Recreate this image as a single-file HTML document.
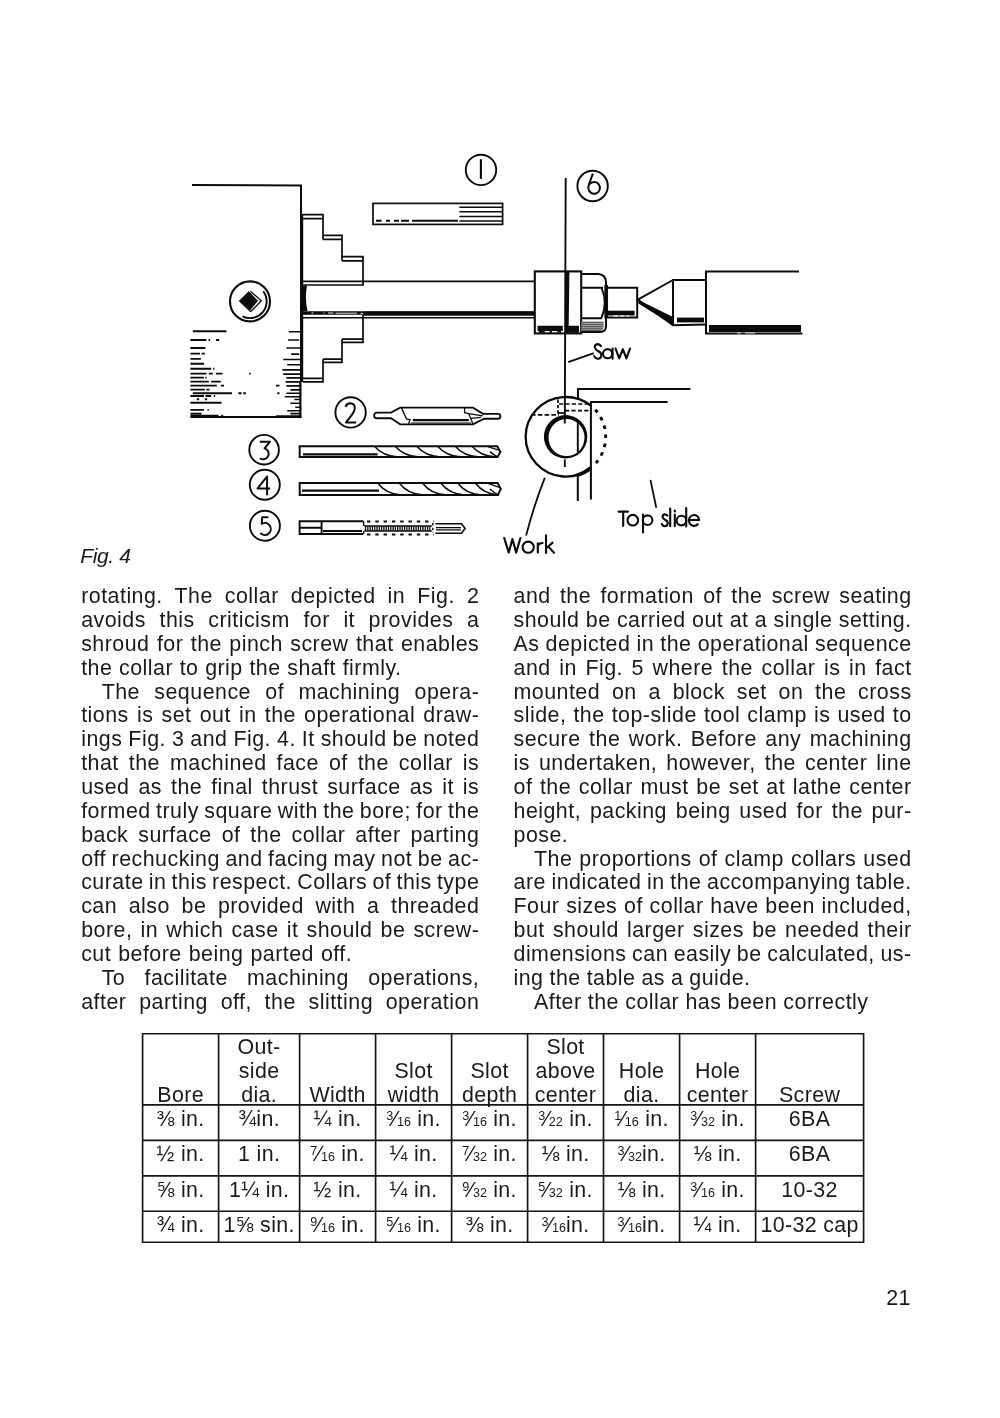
<!DOCTYPE html>
<html><head><meta charset="utf-8"><title>p21</title>
<style>
html,body{margin:0;padding:0;background:#fff}
body{will-change:transform;width:1000px;height:1418px;position:relative;overflow:hidden;font-family:"Liberation Sans",sans-serif;color:#1a1a1a}
.l{position:absolute;white-space:nowrap;font-size:21.4px;letter-spacing:0.48px;line-height:23.85px;height:23.85px}
.t{position:absolute;width:120px;text-align:center;white-space:nowrap;font-size:21.4px;letter-spacing:0.35px;line-height:24px}
.fn{font-size:12.6px;position:relative;top:-6.4px;letter-spacing:0}.fd{font-size:12.6px;letter-spacing:0}.fs{letter-spacing:0}
.vl{position:absolute;width:1.5px;background:#222}
.hl{position:absolute;height:1.5px;background:#222}
#fig{position:absolute;left:80.3px;top:546px;font-style:italic;font-size:21px;letter-spacing:-0.4px;line-height:20px}
#pn{position:absolute;left:860px;width:51px;text-align:right;top:1285.7px;font-size:21.4px;letter-spacing:0.5px;line-height:24px}
svg{position:absolute;left:0;top:0}
</style></head><body>
<svg width="1000" height="600" viewBox="0 0 1000 600" fill="none" stroke="#0b0b0b" stroke-width="2" stroke-linecap="butt" stroke-linejoin="miter">
<!-- headstock outline -->
<g id="headstock">
<path d="M192,185 L301,185.5 L301,214"/>
<path d="M301.6,214 V382" stroke-width="3.2"/>
<path d="M300.4,382 V418" stroke-width="2.2"/>
<path d="M190.5,417 H301.4" stroke-width="2.2"/>
</g>
<!-- chuck jaws -->
<g id="jaws" stroke-width="1.7">
<path d="M303,214.6 H323 V239.4 M303,218.6 H323"/>
<path d="M323,235.4 H342 V260.8 M323,239.4 H342"/>
<path d="M342,256.6 H363 V285.4 M342,260.8 H363"/>
<path d="M303,285 H363.6"/>
<path d="M363,315 V342.6 M342,339.2 H363 M342,342.4 H363.8"/>
<path d="M342,339.2 V362.6 M323,359.2 H342 M323,362.4 H342.8"/>
<path d="M323,359.2 V382 M303,378.4 H323 M303,381.8 H323.8"/>
</g>
<!-- shaft -->
<g id="shaft">
<path d="M303,281.4 H534.4" stroke-width="1.7"/>
<path d="M303,313 H534.4" stroke-width="3.6"/>
<path d="M364,313.6 H534.4" stroke-width="4.2"/>
<path d="M303,317.8 H534.4" stroke-width="1.6"/>
<path d="M303,285.5 H307 Q304.6,298 307.5,311 H303 Z" fill="#0b0b0b" stroke="none"/>
<path d="M311.5,313 h2 M323.5,313 h1 M328,313 h5.5 M335.5,313.2 h21.5 M360.5,313.4 h2.5" stroke="#fff" stroke-width="0.9"/>
</g>
<g id="texture">
<path d="M192.8,331.2H226.4M190.4,340.0H206.4M208.5,340.0H210.1M216.0,340.0H219.2M190.4,348.0H204.0M204.0,348.0H205.3M190.4,353.6H200.0M201.6,353.6H204.8M190.4,358.9H200.8M190.4,363.7H204.0M190.4,368.8H211.2M213.1,368.8H214.4M190.4,373.6H206.4M208.8,373.6H212.8M216.0,373.6H222.4M249.1,373.6H250.7M190.4,377.6H204.0M205.3,377.6H206.6M190.4,381.6H208.8M211.2,381.6H220.8M190.4,385.6H216.8M220.8,385.6H224.0M276.0,385.6H279.5M190.4,389.6H204.8M206.4,389.6H209.6M192.8,393.3H232.0M238.4,393.3H241.6M243.2,393.3H245.9M277.3,393.3H279.5M190.4,396.0H204.0M205.6,396.0H211.2M213.9,396.0H215.2M196.8,399.2H199.2M204.8,399.2H207.2M190.4,402.7H221.6M190.4,409.9H204.0M207.5,409.9H208.8M190.4,413.6H201.6M190.4,415.7H218.4M221.3,415.7H223.2" stroke-width="1.9"/>
<path d="M288.8,331.7H300.0M288.0,340.0H299.2M286.4,348.0H300.0M291.2,354.1H299.2M283.2,359.5H300.0M287.2,364.8H300.0M282.4,369.9H300.0M283.2,374.1H300.0M286.4,377.9H300.0M285.6,381.9H300.0M286.4,385.9H300.0M290.4,389.9H300.0M286.4,393.3H300.0M284.8,396.8H300.0M294.4,399.5H300.0M290.4,403.2H300.0M295.2,407.2H300.0M287.2,410.7H300.0M290.4,413.6H300.0M276.0,416.0H300.0" stroke-width="1.6"/>
</g>
<!-- chuck key socket -->
<g id="key">
<circle cx="250" cy="301.4" r="20" stroke-width="2.1"/>
<path d="M263.3,291.3 A16.7,16.7 0 0 1 242.5,316.3" stroke-width="1.9"/>
<path d="M239.2,301.1 L248.8,291.6 L257.6,300.8 L249.3,310.7 Z" fill="#0b0b0b" stroke="#0b0b0b" stroke-width="0.8"/>
<path d="M250.4,291.3 L261.3,300.8 L250.9,311.5 L249.3,310.6" stroke-width="1.3"/>
</g>
<!-- item 1 bar -->
<g id="bar1">
<rect x="373" y="203.4" width="129.6" height="21" stroke-width="1.7"/>
<path d="M459.4,207.2 H502.6 M459.4,211.7 H502.6 M459.4,216.4 H502.6 M459.4,221 H502.6" stroke-width="1.5"/>
<path d="M376,220.7 H381.5 M386,220.7 H390 M394,220.7 H399 M401,220.7 H409 M412,220.7 H458" stroke-width="2"/>
</g>
<!-- numbered circles -->
<g id="nums" stroke-width="1.9" stroke-linejoin="round">
<circle cx="481" cy="169.9" r="15.2"/>
<path d="M480.9,159.2 V178.9" stroke-width="2.1"/>
<circle cx="592.6" cy="186" r="15.2"/>
<path d="M592.9,173.7 L589.3,183.4 Q588.3,186 588.3,188 A5.85,5.85 0 1 0 589.6,184.2" stroke-width="2"/>
<circle cx="350.6" cy="412.4" r="15.2"/>
<path d="M345.5,406.8 Q346.8,403.3 350.3,403.3 Q354.9,403.6 354.8,408.2 Q354.6,411 352,414.6 L346,422.4 H356.2" stroke-width="2"/>
<circle cx="264.1" cy="449.7" r="14.8"/>
<path d="M259.8,441.7 H270 L264.6,448.4 A5.5,5.5 0 1 1 260,458.2" stroke-width="2" stroke-linejoin="round"/>
<circle cx="264.8" cy="484.8" r="15"/>
<path d="M267.1,495.3 V476.4 L257.6,488.4 H270.2" stroke-width="2"/>
<circle cx="264.9" cy="525.7" r="15"/>
<path d="M268.4,517.2 H262.2 L261.7,523.8 A6,6 0 1 1 260.4,533" stroke-width="2"/>
</g>
<!-- saw line -->
<g id="saw">
<path d="M565.7,178 L564.8,423.5 M564.8,459.5 V467" stroke-width="1.9"/>
</g>
<!-- collar on shaft -->
<g id="collar">
<rect x="534.8" y="271.4" width="46.4" height="62" stroke-width="2.1"/>
<path d="M565,271.4 H569.4 L568.6,333 H565 Z" fill="#0b0b0b" stroke="none"/>
<path d="M537.6,329.2 H562.8 M566.4,329.2 H579" stroke-width="7"/>
<path d="M536.4,331.6 H538.8 M544.8,331.6 H549.6 M552,331.6 H557.4 M561,331.6 H563.4" stroke="#fff" stroke-width="1.2"/>
</g>
<!-- nut -->
<g id="nut">
<path d="M581.2,274 H598.6 Q606,274.6 606,283 V286"/>
<path d="M606.2,285 V318.4" stroke-width="3.7"/>
<path d="M581.2,287.8 H603 M581.2,318.2 H602"/>
<path d="M601.6,287.8 Q608,302.8 601.4,318" stroke-width="1.9"/>
<path d="M581.4,321.6 H603.6 V327 Q603.6,331 599,331 H581.4 Z" fill="#9c9c9c" stroke="none"/>
<path d="M581.4,322.4 H603.6 M581.4,324.5 H603.6 M581.4,326.6 H603.6 M581.4,328.7 H603 M581.4,330.4 H601" stroke="#4a4a4a" stroke-width="0.8"/>
<path d="M606,318 V326.4 Q605.8,331.9 600.4,331.9 H581.2"/>
</g>
<!-- stub -->
<g id="stub">
<path d="M607.8,287.8 H637.2 V317.5 H607.8"/>
<path d="M606,313.1 H634.6" stroke-width="4.8"/>
<path d="M613.2,316 H618 M619.8,316 H624.6 M626.4,316 H629.4" stroke="#fff" stroke-width="1"/>
</g>
<!-- centre + tailstock -->
<g id="tail">
<path d="M673,280 L637.8,299.6 L673,325.2"/>
<path d="M672.2,280 H706 M673,280 V325.2 M672.6,325.2 L706,324.4"/>
<path d="M638.4,300.8 L640.6,301 L672,316.6 V324.4 L638.4,303.6 Z" fill="#0b0b0b" stroke="none"/>
<path d="M677,320 H704" stroke-width="4.8"/>
<path d="M799,271.6 H706 V333.6 H802.4" stroke-width="2"/>
<path d="M709,328.6 H801" stroke-width="7"/>
<path d="M737,333 h4 M745,333 h10" stroke="#fff" stroke-width="0.8"/>
</g>
<!-- work + top slide end view -->
<g id="work">
<path d="M590.8,405.6 A40.2,39.8 0 1 0 590.8,468" stroke-width="2.3"/>
<path d="M576.6,475.4 A40.2,39.8 0 0 0 590.8,468" stroke-width="3.6"/>
<path d="M595.2,409.8 A40.0,40.0 0 0 1 595.2,463.8" stroke-width="2.9" stroke-dasharray="3.6 5.47"/>
<circle cx="565.6" cy="436.8" r="21.7" fill="#0b0b0b" stroke="none"/>
<ellipse cx="566.5" cy="437.6" rx="18" ry="18.5" fill="#fff" stroke="none"/>
<path d="M577.8,421.4 V452.4" stroke-width="1.9"/>
<path d="M564.8,416 V423.5" stroke-width="1.9"/>
<path d="M690.4,389 H578 V398.4 M577.8,476.6 V501" stroke-width="2"/>
<path d="M667.6,401.9 H590.9 V499.4" stroke-width="2"/>
<path d="M558,399.5 V414" stroke-width="1.7" stroke-dasharray="3.4 2"/>
<path d="M559,404 H589.6 M565,410.6 H590" stroke-width="1.7" stroke-dasharray="4.2 2.2"/>
<path d="M558,413 H564" stroke-width="1.7"/>
<path d="M531,414.8 H559" stroke-width="1.7" stroke-dasharray="4.6 2.2"/>
</g>
<!-- centre drill 2 -->
<g id="cdrill" stroke-width="1.7">
<path d="M377,412.6 H391 L400.2,407.6 H473 L483,413.9 H498 A2.4,2.4 0 0 1 498,418.7 H484.2 L473,424.4 H400.2 L391,418.3 H377 A2.85,2.85 0 0 1 377,412.6 Z" stroke-width="1.9"/>
<path d="M401.6,408.1 L406.5,419 L410,419.7 L408.6,423.9" stroke-width="1.4"/>
<path d="M464.6,408 V412.7 L468.8,413.7 L482.8,415.9 M468.8,413.7 L473,423.9 M471,418.4 L481,417.4" stroke-width="1.3"/>
<path d="M412.8,420.1 H468.8" stroke-width="2.3"/>
<path d="M411,423 H471" stroke-width="1"/>
</g>
<!-- drill 3 -->
<g id="drill3" stroke-width="1.6">
<path d="M299.7,446.3 H497.2 L500.4,451.8 L497.6,457 H299.7 Z" stroke-width="2"/>
<path d="M303,454.4 H377.6" stroke-width="2.2"/>
<path d="M374.4,446.3C379.4,452.2 387.4,456.4 398.4,457M395.2,446.3C400.2,452.2 408.2,456.4 419.2,457M416.8,446.3C421.8,452.2 429.8,456.4 440.8,457M437.6,446.3C442.6,452.2 450.6,456.4 461.6,457M455.2,446.3C460.2,452.2 468.2,456.4 479.2,457M472.0,446.3C477.0,452.2 485.0,456.4 496.0,457" stroke-width="1.5"/>
<path d="M488,446.6 Q494,448.6 499,450.2 M490,451.6 Q494,455 497,456.6" stroke-width="1.4"/>
</g>
<!-- drill 4 -->
<g id="drill4" stroke-width="1.6">
<path d="M299.7,483 H497.6 L500.8,489 L497.8,495 H299.7 Z" stroke-width="2"/>
<path d="M302,490.6 H379" stroke-width="2.2"/>
<path d="M377.6,483C382.6,489.6 390.6,494.4 401.6,495M399.2,483C404.2,489.6 412.2,494.4 423.2,495M422.4,483C427.4,489.6 435.4,494.4 446.4,495M440.8,483C445.8,489.6 453.8,494.4 464.8,495M457.6,483C462.6,489.6 470.6,494.4 481.6,495M475.2,483C480.2,489.6 488.2,494.4 499.2,495" stroke-width="1.5"/>
<path d="M488,483.4 Q494,485.6 499.4,487.4 M490,489 Q494,492.6 497.4,494.4" stroke-width="1.4"/>
</g>
<!-- tap 5 -->
<g id="tap5" stroke-width="1.9">
<path d="M363.4,521.2 H299.6 V534 H363.4 M299.6,527.8 H321.6 M321.6,521.2 V534"/>
<path d="M323,530.9 H362" stroke-width="2"/>
<path d="M363.6,521.2 V526 M363.6,531 V534" stroke-width="1.4"/>
<path d="M364.3,526 H431.8 M364.3,531 H431.8" stroke-width="1.5"/>
<path d="M365.5,526.2V530.8M367.8,526.2V530.8M370.1,526.2V530.8M372.4,526.2V530.8M374.7,526.2V530.8M377.0,526.2V530.8M379.3,526.2V530.8M381.6,526.2V530.8M383.9,526.2V530.8M386.2,526.2V530.8M388.5,526.2V530.8M390.8,526.2V530.8M393.1,526.2V530.8M395.4,526.2V530.8M397.7,526.2V530.8M400.0,526.2V530.8M402.3,526.2V530.8M404.6,526.2V530.8M406.9,526.2V530.8M409.2,526.2V530.8M411.5,526.2V530.8M413.8,526.2V530.8M416.1,526.2V530.8M418.4,526.2V530.8M420.7,526.2V530.8M423.0,526.2V530.8M425.3,526.2V530.8M427.6,526.2V530.8M429.9,526.2V530.8" stroke-width="1.3"/>
<path d="M367,521.5 H434 M367,534.5 H434" stroke-width="1.8" stroke-dasharray="3.4 4.9"/>
<path d="M432.8,523 V533" stroke-width="1.4" stroke-dasharray="2.4 2.4"/>
<path d="M435.4,523.7 H461.5 L465.1,528.6 L461.5,533.2 H435.4" stroke-width="1.6"/>
<path d="M436,527.6 H461 M436,529.9 H461" stroke-width="1.3"/>
</g>
<!-- labels -->
<g id="labels" stroke-width="2.1" stroke-linecap="round" stroke-linejoin="round">
<path d="M568.8,361.8 L593.2,353.4" stroke-width="1.8"/>
<path d="M601,346 Q599,343.8 597,344.2 Q594.4,344.8 594.8,347.4 Q595.2,349.6 598,351 Q601.4,352.6 601.4,355.4 Q601.2,358.6 598,358.8 Q595.2,358.8 594.2,356"/>
<circle cx="607.6" cy="353.7" r="4.6"/>
<path d="M612.6,348.6 V358.8"/>
<path d="M615.6,348.6 L619.2,358.4 L622.8,349.2 L626.4,358.4 L630,348.6"/>
<path d="M544.6,478.4 Q534,505 526.3,534.9" stroke-width="1.8"/>
<path d="M504.2,538 L508.8,552.6 L512.4,539 L516.2,552.6 L520.4,538"/>
<circle cx="528.2" cy="547.2" r="5.6"/>
<path d="M537.8,543.2 V552.6 M537.8,546.4 Q538.6,543 542.6,543"/>
<path d="M546,535.2 V553 M552.6,542.6 L546.4,548 M548.4,546.6 L554,552.8"/>
<path d="M650.6,480.6 L656.1,507" stroke-width="1.8"/>
<path d="M618.6,511.6 H628 M623.2,511.6 V526"/>
<circle cx="632.8" cy="520.2" r="5.3"/>
<path d="M643,514.6 V532.4"/>
<circle cx="647.6" cy="520.2" r="4.8"/>
<path d="M667.4,515.6 Q666,514.2 664.6,514.4 Q662.4,514.8 662.6,517 Q662.8,518.8 665,519.8 Q667.8,521 667.8,523.4 Q667.6,526 665,526.2 Q662.8,526.2 661.8,524"/>
<path d="M670.2,508.5 V526.2 M674.8,514.6 V526.2"/>
<path d="M674.8,510.6 V511.4" stroke-width="2.2"/>
<circle cx="681.4" cy="520.6" r="4.8"/>
<path d="M686.2,508 V526.4"/>
<path d="M689,520 H699.2 A5.2,5.4 0 1 0 697.8,524.2"/>
</g>

</svg>

<div id="fig">Fig. 4</div>
<div class="l" style="left:81.20px;top:585.16px;word-spacing:5.623px">rotating. The collar depicted in Fig. 2</div>
<div class="l" style="left:81.20px;top:609.01px;word-spacing:7.157px">avoids this criticism for it provides a</div>
<div class="l" style="left:81.20px;top:632.86px;word-spacing:0.998px">shroud for the pinch screw that enables</div>
<div class="l" style="left:81.20px;top:656.71px;word-spacing:0.237px">the collar to grip the shaft firmly.</div>
<div class="l" style="left:101.70px;top:680.56px;word-spacing:7.911px">The sequence of machining opera-</div>
<div class="l" style="left:81.20px;top:704.41px;word-spacing:1.739px">tions is set out in the operational draw-</div>
<div class="l" style="left:81.20px;top:728.26px;word-spacing:-0.422px">ings Fig. 3 and Fig. 4. It should be noted</div>
<div class="l" style="left:81.20px;top:752.11px;word-spacing:3.574px">that the machined face of the collar is</div>
<div class="l" style="left:81.20px;top:775.96px;word-spacing:2.565px">used as the final thrust surface as it is</div>
<div class="l" style="left:81.20px;top:799.81px;word-spacing:-1.044px">formed truly square with the bore; for the</div>
<div class="l" style="left:81.20px;top:823.66px;word-spacing:3.498px">back surface of the collar after parting</div>
<div class="l" style="left:81.20px;top:847.51px;word-spacing:-0.857px">off rechucking and facing may not be ac-</div>
<div class="l" style="left:81.20px;top:871.36px;word-spacing:-1.178px">curate in this respect. Collars of this type</div>
<div class="l" style="left:81.20px;top:895.21px;word-spacing:5.196px">can also be provided with a threaded</div>
<div class="l" style="left:81.20px;top:919.06px;word-spacing:1.710px">bore, in which case it should be screw-</div>
<div class="l" style="left:81.20px;top:942.91px;word-spacing:0.561px">cut before being parted off.</div>
<div class="l" style="left:101.70px;top:966.76px;word-spacing:12.850px">To facilitate machining operations,</div>
<div class="l" style="left:81.20px;top:990.61px;word-spacing:6.313px">after parting off, the slitting operation</div>
<div class="l" style="left:513.50px;top:585.16px;word-spacing:2.862px">and the formation of the screw seating</div>
<div class="l" style="left:513.50px;top:609.01px;word-spacing:-0.033px">should be carried out at a single setting.</div>
<div class="l" style="left:513.50px;top:632.86px;word-spacing:-0.240px">As depicted in the operational sequence</div>
<div class="l" style="left:513.50px;top:656.71px;word-spacing:2.148px">and in Fig. 5 where the collar is in fact</div>
<div class="l" style="left:513.50px;top:680.56px;word-spacing:5.375px">mounted on a block set on the cross</div>
<div class="l" style="left:513.50px;top:704.41px;word-spacing:0.652px">slide, the top-slide tool clamp is used to</div>
<div class="l" style="left:513.50px;top:728.26px;word-spacing:2.107px">secure the work. Before any machining</div>
<div class="l" style="left:513.50px;top:752.11px;word-spacing:2.622px">is undertaken, however, the center line</div>
<div class="l" style="left:513.50px;top:775.96px;word-spacing:1.225px">of the collar must be set at lathe center</div>
<div class="l" style="left:513.50px;top:799.81px;word-spacing:2.381px">height, packing being used for the pur-</div>
<div class="l" style="left:513.50px;top:823.66px;word-spacing:1.800px">pose.</div>
<div class="l" style="left:534.00px;top:847.51px;word-spacing:0.625px">The proportions of clamp collars used</div>
<div class="l" style="left:513.50px;top:871.36px;word-spacing:-0.806px">are indicated in the accompanying table.</div>
<div class="l" style="left:513.50px;top:895.21px;word-spacing:0.323px">Four sizes of collar have been included,</div>
<div class="l" style="left:513.50px;top:919.06px;word-spacing:1.787px">but should larger sizes be needed their</div>
<div class="l" style="left:513.50px;top:942.91px;word-spacing:-0.796px">dimensions can easily be calculated, us-</div>
<div class="l" style="left:513.50px;top:966.76px;word-spacing:-0.435px">ing the table as a guide.</div>
<div class="l" style="left:534.00px;top:990.61px;word-spacing:-0.191px">After the collar has been correctly</div>
<svg width="1000" height="1418" viewBox="0 0 1000 1418" style="pointer-events:none"><path d="M142.6,1032.9V1243.0M218.6,1032.9V1243.0M299.6,1032.9V1243.0M375.6,1032.9V1243.0M451.6,1032.9V1243.0M527.6,1032.9V1243.0M603.5,1032.9V1243.0M679.6,1032.9V1243.0M755.6,1032.9V1243.0M863.6,1032.9V1243.0M141.8,1033.7H864.4M141.8,1104.9H864.4M141.8,1140.3H864.4M141.8,1175.8H864.4M141.8,1211.2H864.4M141.8,1242.2H864.4" fill="none" stroke="#151515" stroke-width="1.65"/></svg>
<div class="t" style="left:120.60px;top:1082.70px">Bore</div>
<div class="t" style="left:199.10px;top:1034.80px">Out-</div>
<div class="t" style="left:199.10px;top:1058.80px">side</div>
<div class="t" style="left:199.10px;top:1082.70px">dia.</div>
<div class="t" style="left:277.60px;top:1082.70px">Width</div>
<div class="t" style="left:353.60px;top:1058.80px">Slot</div>
<div class="t" style="left:353.60px;top:1082.70px">width</div>
<div class="t" style="left:429.60px;top:1058.80px">Slot</div>
<div class="t" style="left:429.60px;top:1082.70px">depth</div>
<div class="t" style="left:505.55px;top:1034.80px">Slot</div>
<div class="t" style="left:505.55px;top:1058.80px">above</div>
<div class="t" style="left:505.55px;top:1082.70px">center</div>
<div class="t" style="left:581.55px;top:1058.80px">Hole</div>
<div class="t" style="left:581.55px;top:1082.70px">dia.</div>
<div class="t" style="left:657.60px;top:1058.80px">Hole</div>
<div class="t" style="left:657.60px;top:1082.70px">center</div>
<div class="t" style="left:749.60px;top:1082.70px">Screw</div>
<div class="t" style="left:120.60px;top:1106.90px">⅜ in.</div>
<div class="t" style="left:199.10px;top:1106.90px">¾in.</div>
<div class="t" style="left:277.60px;top:1106.90px">¼ in.</div>
<div class="t" style="left:353.60px;top:1106.90px"><span class="fn">3</span><span class="fs">⁄</span><span class="fd">16</span> in.</div>
<div class="t" style="left:429.60px;top:1106.90px"><span class="fn">3</span><span class="fs">⁄</span><span class="fd">16</span> in.</div>
<div class="t" style="left:505.55px;top:1106.90px"><span class="fn">3</span><span class="fs">⁄</span><span class="fd">22</span> in.</div>
<div class="t" style="left:581.55px;top:1106.90px"><span class="fn">1</span><span class="fs">⁄</span><span class="fd">16</span> in.</div>
<div class="t" style="left:657.60px;top:1106.90px"><span class="fn">3</span><span class="fs">⁄</span><span class="fd">32</span> in.</div>
<div class="t" style="left:749.60px;top:1106.90px">6BA</div>
<div class="t" style="left:120.60px;top:1142.40px">½ in.</div>
<div class="t" style="left:199.10px;top:1142.40px">1 in.</div>
<div class="t" style="left:277.60px;top:1142.40px"><span class="fn">7</span><span class="fs">⁄</span><span class="fd">16</span> in.</div>
<div class="t" style="left:353.60px;top:1142.40px">¼ in.</div>
<div class="t" style="left:429.60px;top:1142.40px"><span class="fn">7</span><span class="fs">⁄</span><span class="fd">32</span> in.</div>
<div class="t" style="left:505.55px;top:1142.40px">⅛ in.</div>
<div class="t" style="left:581.55px;top:1142.40px"><span class="fn">3</span><span class="fs">⁄</span><span class="fd">32</span>in.</div>
<div class="t" style="left:657.60px;top:1142.40px">⅛ in.</div>
<div class="t" style="left:749.60px;top:1142.40px">6BA</div>
<div class="t" style="left:120.60px;top:1177.90px">⅝ in.</div>
<div class="t" style="left:199.10px;top:1177.90px">1¼ in.</div>
<div class="t" style="left:277.60px;top:1177.90px">½ in.</div>
<div class="t" style="left:353.60px;top:1177.90px">¼ in.</div>
<div class="t" style="left:429.60px;top:1177.90px"><span class="fn">9</span><span class="fs">⁄</span><span class="fd">32</span> in.</div>
<div class="t" style="left:505.55px;top:1177.90px"><span class="fn">5</span><span class="fs">⁄</span><span class="fd">32</span> in.</div>
<div class="t" style="left:581.55px;top:1177.90px">⅛ in.</div>
<div class="t" style="left:657.60px;top:1177.90px"><span class="fn">3</span><span class="fs">⁄</span><span class="fd">16</span> in.</div>
<div class="t" style="left:749.60px;top:1177.90px">10-32</div>
<div class="t" style="left:120.60px;top:1213.40px">¾ in.</div>
<div class="t" style="left:199.10px;top:1213.40px">1⅝ sin.</div>
<div class="t" style="left:277.60px;top:1213.40px"><span class="fn">9</span><span class="fs">⁄</span><span class="fd">16</span> in.</div>
<div class="t" style="left:353.60px;top:1213.40px"><span class="fn">5</span><span class="fs">⁄</span><span class="fd">16</span> in.</div>
<div class="t" style="left:429.60px;top:1213.40px">⅜ in.</div>
<div class="t" style="left:505.55px;top:1213.40px"><span class="fn">3</span><span class="fs">⁄</span><span class="fd">16</span>in.</div>
<div class="t" style="left:581.55px;top:1213.40px"><span class="fn">3</span><span class="fs">⁄</span><span class="fd">16</span>in.</div>
<div class="t" style="left:657.60px;top:1213.40px">¼ in.</div>
<div class="t" style="left:749.60px;top:1213.40px">10-32 cap</div>
<div id="pn">21</div>
</body></html>
